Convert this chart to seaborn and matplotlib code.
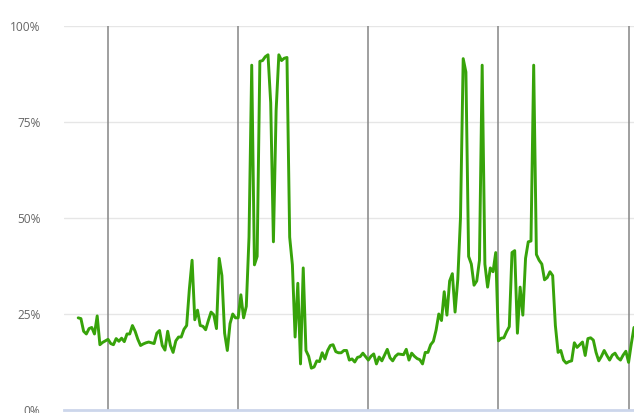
import numpy as np
import pandas as pd
import matplotlib
matplotlib.use("Agg")
import matplotlib.pyplot as plt
import seaborn as sns

# Time axis: half-hour samples (hours), day boundaries every 24 h
start_hour = 18.5
step_hours = 0.5
day_marks = [24, 48, 72, 96, 120]
y_ticks = [0, 25, 50, 75, 100]
y_tick_labels = ["0%", "25%", "50%", "75%", "100%"]

usage = [
    24, 23.8, 20.5, 19.8, 21.2, 21.5, 19.8, 24.5, 17, 17.6,
    18, 18.4, 17.3, 17, 18.6, 17.9, 18.7, 17.8, 19.8, 19.8,
    22, 20.5, 18.4, 16.8, 17.2, 17.5, 17.7, 17.5, 17.3, 20,
    20.7, 16.8, 15.6, 20.5, 16.8, 15, 18, 19, 19, 21,
    22, 31.5, 39, 23.5, 26, 22, 21.8, 20.9, 23.3, 25.5,
    24.8, 21.2, 39.5, 35, 20, 15.5, 22.5, 25, 24, 24,
    30, 24, 27, 45, 89.8, 37.8, 40, 90.8, 91, 92,
    92.5, 80, 43.8, 78, 92.5, 91, 91.6, 91.8, 45, 37.8,
    19, 33, 12, 37, 15.5, 14, 10.9, 11.2, 12.8, 12.6,
    14.9, 13.3, 15.5, 16.8, 17, 15.2, 14.9, 14.9, 15.5, 15.5,
    13, 13.3, 12.5, 13.7, 13.9, 14.8, 13.9, 13, 14, 14.6,
    12, 13.8, 12.8, 14.3, 15.8, 13.6, 12.8, 14, 14.6, 14.5,
    14.4, 15.8, 13, 14.8, 14, 13.4, 13.1, 12, 15, 15,
    17, 17.9, 20.8, 25, 23.3, 30.8, 24.7, 33.6, 35.5, 25.5,
    34, 50, 91.5, 88, 40, 38, 32.5, 33.6, 39, 89.8,
    38, 32, 37, 36, 41, 18, 18.7, 18.8, 20.4, 21.7,
    41, 41.5, 20, 32, 24.7, 39.5, 43.8, 44, 89.8, 40.5,
    39, 38, 33.9, 34.5, 36, 35, 22, 15, 15.5, 13,
    12.2, 12.6, 12.8, 17.5, 16.3, 17, 17.7, 14.2, 18.6, 18.8,
    18.2, 15, 12.8, 14, 15.5, 14.2, 13, 14.3, 14.8, 13.6,
    13, 14.3, 15.3, 12.4, 17.2, 21.5,
]

hours = start_hour + step_hours * np.arange(len(usage))
df = pd.DataFrame({"hour": hours, "usage": usage})

sns.set_style("white")
plt.rcParams["font.family"] = ["Open Sans", "DejaVu Sans"]

fig = plt.figure(figsize=(6.34, 4.13), dpi=100)
ax = fig.add_axes([64 / 634, 1 - 410 / 413, 1 - 64 / 634, 384 / 413])

for d in day_marks:
    ax.axvline(d, color="#858585", lw=1.1, zorder=1)

sns.lineplot(data=df, x="hour", y="usage", ax=ax, color="#37a30a",
             linewidth=2.1, zorder=3)

ax.set_xlim(15.88, hours[-1])
ax.set_ylim(0, 100)
ax.set_yticks(y_ticks)
ax.set_yticklabels(y_tick_labels)
ax.set_xticks([])
ax.set_xlabel("")
ax.set_ylabel("")
ax.yaxis.grid(True, color="#e6e6e6", lw=1, zorder=0)
ax.set_axisbelow(True)
ax.tick_params(axis="y", length=0, pad=17, labelsize=8.6, labelcolor="#666666")
for s in ["top", "right", "left"]:
    ax.spines[s].set_visible(False)
ax.spines["bottom"].set_color("#ccd6eb")
ax.spines["bottom"].set_linewidth(2)

fig.savefig("out.png", dpi=100)
